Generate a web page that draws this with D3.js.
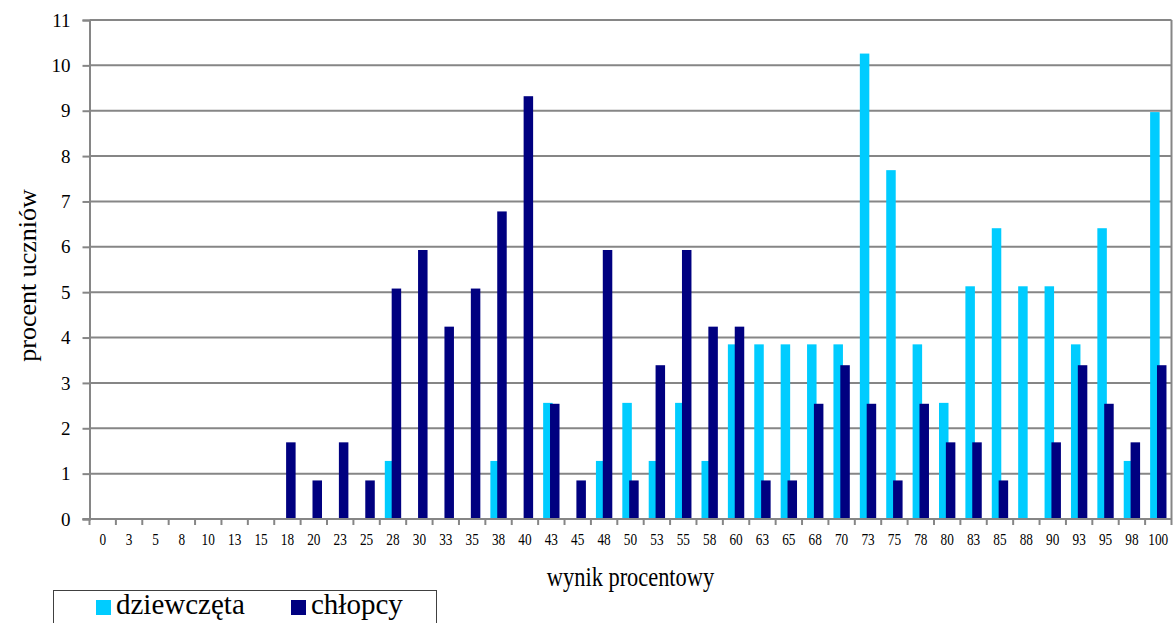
<!DOCTYPE html>
<html>
<head>
<meta charset="utf-8">
<script src="https://cdn.jsdelivr.net/npm/d3@7"></script>
<style>
  html, body { margin: 0; padding: 0; background: #fff; }
  svg { display: block; }
  svg text { font-family: "Liberation Serif", "Times New Roman", "DejaVu Serif", serif; }
</style>
</head>
<body>
<svg id="chart" width="1173" height="623"></svg>
<script>
// Score categories (percent result) and share of students per group
const categories = ["0","3","5","8","10","13","15","18","20","23","25","28","30","33","35","38","40","43","45","48","50","53","55","58","60","63","65","68","70","73","75","78","80","83","85","88","90","93","95","98","100"];
const girls = [0,0,0,0,0,0,0,0,0,0,0,1.28,0,0,0,1.28,0,2.56,0,1.28,2.56,1.28,2.56,1.28,3.85,3.85,3.85,3.85,3.85,10.26,7.69,3.85,2.56,5.13,6.41,5.13,5.13,3.85,6.41,1.28,8.97];
const boys = [0,0,0,0,0,0,0,1.69,0.85,1.69,0.85,5.08,5.93,4.24,5.08,6.78,9.32,2.54,0.85,5.93,0.85,3.39,5.93,4.24,4.24,0.85,0.85,2.54,3.39,2.54,0.85,2.54,1.69,1.69,0.85,0,1.69,3.39,2.54,1.69,3.39];
const seriesNames = ["dziewczęta", "chłopcy"];
const seriesColors = ["#00CCFF", "#000080"];
const yTicks = [0,1,2,3,4,5,6,7,8,9,10,11];
const xTitle = "wynik procentowy";
const yTitle = "procent uczniów";

const FONT = '"Liberation Serif", "Times New Roman", "DejaVu Serif", serif';
const svg = d3.select("#chart");
const plotLeft = 89.5, plotRight = 1171.5, plotTop = 20, plotBottom = 519;
const gridColor = "#868686";

const x = d3.scaleBand().domain(categories).range([plotLeft, plotRight]).padding(0);
const y = d3.scaleLinear().domain([0, 11]).range([plotBottom, plotTop]);
const bw = x.bandwidth();
const inner = d3.scalePoint().domain(seriesNames).range([bw * 0.19, bw * 0.45]);
const barW = bw * 0.36;

// horizontal gridlines
svg.append("g")
  .selectAll("line")
  .data(yTicks)
  .join("line")
  .attr("x1", plotLeft).attr("x2", plotRight)
  .attr("y1", d => y(d)).attr("y2", d => y(d))
  .attr("stroke", gridColor).attr("stroke-width", 2);

// right frame line
svg.append("line")
  .attr("x1", plotRight).attr("x2", plotRight)
  .attr("y1", y(11)).attr("y2", y(0))
  .attr("stroke", gridColor).attr("stroke-width", 2);

// bars
const rows = categories.map((c, i) => ({ c, vals: [girls[i], boys[i]] }));
seriesNames.forEach((s, si) => {
  svg.append("g")
    .selectAll("rect")
    .data(rows)
    .join("rect")
    .attr("x", d => x(d.c) + inner(s))
    .attr("width", barW)
    .attr("y", d => y(d.vals[si]))
    .attr("height", d => y(0) - y(d.vals[si]))
    .attr("fill", seriesColors[si]);
});

// y axis
const yAxis = svg.append("g")
  .attr("transform", `translate(${plotLeft},0)`)
  .call(d3.axisLeft(y).tickValues(yTicks).tickSize(7).tickPadding(12).tickFormat(d3.format("d")));
yAxis.attr("font-family", FONT);
yAxis.select(".domain").attr("stroke", gridColor).attr("stroke-width", 2);
yAxis.selectAll(".tick line").attr("stroke", gridColor).attr("stroke-width", 2);
yAxis.selectAll(".tick text")
  .attr("font-family", FONT).attr("font-size", 19).attr("fill", "#000");

// x axis baseline and category dividers
svg.append("line")
  .attr("x1", plotLeft - 7).attr("x2", plotRight)
  .attr("y1", y(0)).attr("y2", y(0))
  .attr("stroke", gridColor).attr("stroke-width", 2);
svg.append("g")
  .selectAll("line")
  .data(categories.map(c => x(c)).concat([x.range()[1]]))
  .join("line")
  .attr("x1", d => d).attr("x2", d => d)
  .attr("y1", y(0)).attr("y2", y(0) + 6)
  .attr("stroke", gridColor).attr("stroke-width", 2);

// x tick labels
svg.append("g")
  .selectAll("text")
  .data(categories)
  .join("text")
  .attr("transform", d => `translate(${x(d) + bw / 2},545) scale(0.83,1)`)
  .attr("text-anchor", "middle")
  .attr("font-family", FONT)
  .attr("font-size", 16)
  .attr("fill", "#000")
  .text(d => d);

// axis titles
svg.append("text")
  .attr("transform", `translate(${(plotLeft + plotRight) / 2},586) scale(0.8,1)`)
  .attr("text-anchor", "middle")
  .attr("font-family", FONT)
  .attr("font-size", 28)
  .attr("fill", "#000")
  .text(xTitle);
svg.append("text")
  .attr("transform", `translate(36,${(plotTop + plotBottom) / 2 + 6}) rotate(-90)`)
  .attr("text-anchor", "middle")
  .attr("font-family", FONT)
  .attr("font-size", 26)
  .attr("fill", "#000")
  .text(yTitle);

// legend
const lg = svg.append("g");
lg.append("rect")
  .attr("x", 53.5).attr("y", 590.5).attr("width", 383).attr("height", 50)
  .attr("fill", "#fff").attr("stroke", "#404040").attr("stroke-width", 1);
const legendX = [96, 291];
seriesNames.forEach((s, i) => {
  lg.append("rect")
    .attr("x", legendX[i]).attr("y", 600).attr("width", 15).attr("height", 15)
    .attr("fill", seriesColors[i]);
  lg.append("text")
    .attr("x", legendX[i] + 20).attr("y", 614)
    .attr("font-family", FONT)
    .attr("font-size", 29)
    .attr("fill", "#000")
    .text(s);
});
</script>
</body>
</html>
